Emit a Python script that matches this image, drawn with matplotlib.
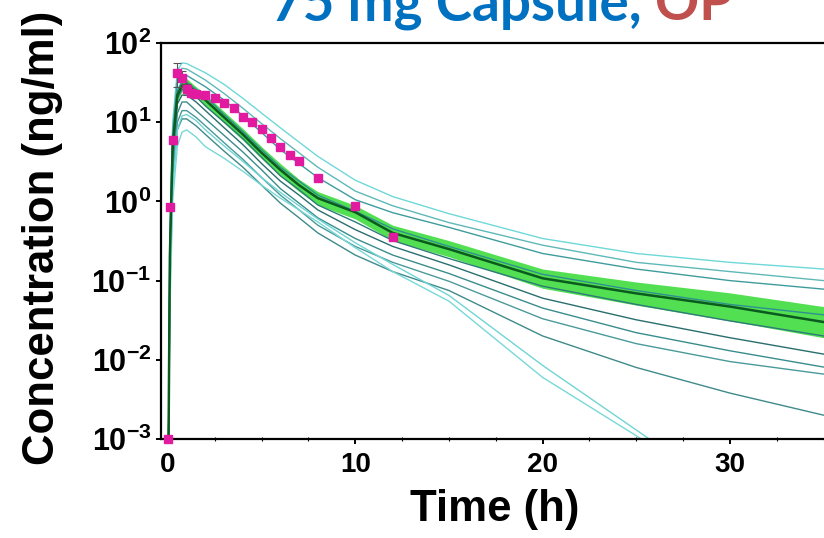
import numpy as np
import matplotlib
matplotlib.use("Agg")
import matplotlib.pyplot as plt
from matplotlib import font_manager as fm
from matplotlib.ticker import FixedLocator, FuncFormatter, MultipleLocator

# ---------------- data ----------------
title_main = "75 mg Capsule, "
title_tail = "OP"
x_label = "Time (h)"
y_label = "Concentration (ng/ml)"
x_ticks = [0, 10, 20, 30]
y_ticks = [1e-3, 1e-2, 1e-1, 1e0, 1e1, 1e2]

# simulation time grid (h)
t_sim = [0, 0.1, 0.25, 0.5, 0.75, 1, 1.5, 2, 3, 4, 5, 6, 7, 8, 10, 12, 15, 20, 25, 30, 35]

# individual simulated profiles (ng/ml)
ind_1 = [1e-4, 0.4, 10, 45, 56, 55, 48, 42, 30, 20, 13, 8.5, 5.6, 3.7, 1.85, 1.15, 0.7, 0.34, 0.22, 0.17, 0.14]
ind_2 = [1e-4, 0.3, 8, 38, 48, 47, 40, 34, 23, 15, 9.6, 6.2, 4.1, 2.7, 1.35, 0.88, 0.54, 0.28, 0.17, 0.13, 0.10]
ind_3 = [1e-4, 0.3, 7, 31, 40, 39, 33, 28, 19, 12, 7.4, 4.5, 3.0, 2.0, 1.05, 0.72, 0.47, 0.22, 0.14, 0.10, 0.078]
ind_4 = [1e-4, 0.2, 5, 25, 33, 32, 26, 21, 12.5, 7.6, 4.5, 2.7, 1.8, 1.2, 0.75, 0.45, 0.27, 0.12, 0.075, 0.05, 0.037]
ind_5 = [1e-4, 0.2, 4, 20, 26, 26, 21, 16, 10, 6.2, 3.6, 2.1, 1.4, 0.9, 0.55, 0.32, 0.19, 0.085, 0.05, 0.031, 0.02]
ind_6 = [1e-4, 0.15, 3.5, 17, 22, 22, 18, 14, 8.5, 5.2, 3.0, 1.8, 1.2, 0.78, 0.44, 0.27, 0.158, 0.06, 0.032, 0.019, 0.0118]
ind_7 = [1e-4, 0.1, 2.5, 13, 18, 18, 14, 11, 6.8, 4.2, 2.5, 1.45, 0.95, 0.62, 0.34, 0.21, 0.123, 0.045, 0.022, 0.013, 0.0081]
ind_8 = [1e-4, 0.1, 2, 10, 14, 14, 11.5, 9, 5.5, 3.4, 2.0, 1.2, 0.78, 0.5, 0.27, 0.17, 0.098, 0.033, 0.016, 0.0095, 0.0066]
ind_9 = [1e-4, 0.08, 1.8, 8, 11, 11, 9, 7, 4.3, 2.7, 1.6, 0.95, 0.62, 0.4, 0.21, 0.13, 0.075, 0.02, 0.008, 0.0038, 0.002]
ind_10 = [1e-4, 0.06, 1.5, 8, 12, 12.5, 10.5, 8, 5, 3.2, 2.0, 1.3, 0.88, 0.6, 0.3, 0.16, 0.065, 0.0085, 0.0013, 2e-4, 3e-5]
ind_11 = [1e-4, 0.04, 1.0, 5, 7.5, 8, 6.5, 4.9, 3.5, 2.4, 1.6, 1.1, 0.78, 0.55, 0.26, 0.13, 0.055, 0.006, 0.0011, 2e-4, 3e-5]

# population median and confidence band (ng/ml)
median_conc = [1e-4, 0.2, 5, 22, 29, 30, 24, 19, 11.5, 7, 4.1, 2.5, 1.6, 1.1, 0.73, 0.4, 0.25, 0.107, 0.069, 0.047, 0.030]
band_low = [1e-4, 0.17, 4.2, 18.5, 24.5, 25.5, 20.5, 16, 9.7, 5.9, 3.45, 2.1, 1.33, 0.9, 0.6, 0.32, 0.2, 0.08, 0.049, 0.031, 0.019]
band_high = [1e-4, 0.24, 6, 26, 34.5, 35.5, 28, 22.5, 13.6, 8.3, 4.9, 3.0, 1.9, 1.33, 0.89, 0.5, 0.32, 0.14, 0.096, 0.07, 0.047]

# observed data (mean +/- error)
t_obs = [0, 0.125, 0.25, 0.5, 0.75, 1, 1.25, 1.5, 2, 2.5, 3, 3.5, 4, 4.5, 5, 5.5, 6, 6.5, 7, 8, 10, 12]
c_obs = [0.001, 0.84, 6.0, 42, 36, 26, 23.6, 22.5, 22, 20, 17.6, 15, 11.7, 10.1, 8.3, 6.4, 4.9, 3.9, 3.2, 2.0, 0.88, 0.355]
e_obs = [0, 0, 0, 14, 8, 4, 2, 1.5, 1.5, 1, 1, 1, 0.8, 0.6, 0.5, 0.4, 0.3, 0.2, 0.2, 0.1, 0.05, 0.02]

# ---------------- style ----------------
names = {f.name for f in fm.fontManager.ttflist}
narrow = "Liberation Sans Narrow" if "Liberation Sans Narrow" in names else "Liberation Sans"
plt.rcParams["font.family"] = ["Liberation Sans", "DejaVu Sans"]
plt.rcParams["mathtext.fontset"] = "custom"
plt.rcParams["mathtext.bf"] = narrow + ":bold"
plt.rcParams["mathtext.rm"] = narrow + ":bold"
plt.rcParams["mathtext.it"] = narrow + ":bold"

W, H = 824, 538
fig = plt.figure(figsize=(W / 100, H / 100), dpi=100)
left_px, right_px, top_px, bot_px = 160.5, 828, 43, 439
ax = fig.add_axes([left_px / W, 1 - bot_px / H, (right_px - left_px) / W, (bot_px - top_px) / H])

ind_series = [ind_1, ind_2, ind_3, ind_4, ind_5, ind_6, ind_7, ind_8, ind_9, ind_10, ind_11]
ind_colors = ["#6fd8d8", "#5fb8b8", "#3f9c9c", "#2f9090", "#2d7a7a", "#2a6e6e",
              "#3a8c8c", "#4a9a9a", "#3f8a8a", "#70d4d4", "#78d8d8"]

ax.fill_between(t_sim, band_low, band_high, color="#52e052", lw=0, zorder=1)
for s, c in zip(ind_series, ind_colors):
    ax.plot(t_sim, s, color=c, lw=1.0, zorder=2)
ax.plot(t_sim, median_conc, color="#0b5a1e", lw=1.8, zorder=3)

ax.errorbar(t_obs, c_obs, yerr=e_obs, fmt="none", ecolor="#555555", elinewidth=0.8,
            capsize=3, capthick=0.8, zorder=4)
ax.plot(t_obs, c_obs, ls="none", marker="s", ms=6, color="#e21aa0", mec="#e21aa0",
        zorder=5, clip_on=False)

ax.set_yscale("log")
ax.set_ylim(1e-3, 1e2)
x0 = -0.40
px_per_h = 18.73
ax.set_xlim(x0, x0 + (right_px - left_px) / px_per_h)

ax.xaxis.set_major_locator(FixedLocator(x_ticks))
ax.xaxis.set_minor_locator(MultipleLocator(2.5))
ax.yaxis.set_major_locator(FixedLocator(y_ticks))
ax.yaxis.set_minor_locator(FixedLocator([]))
ax.yaxis.set_major_formatter(FuncFormatter(lambda v, p: r"$\mathbf{10^{%d}}$" % int(round(np.log10(v)))))

for sp in ["left", "bottom", "top"]:
    ax.spines[sp].set_linewidth(1.6)
ax.spines["right"].set_visible(False)
ax.tick_params(axis="both", which="major", direction="out", length=3.5, width=1.4, top=False, right=False)
ax.tick_params(axis="x", which="minor", direction="inout", length=3, width=0.8, top=False)
ax.tick_params(axis="x", which="major", labelsize=20, pad=6)
ax.tick_params(axis="y", which="major", labelsize=22, pad=3)
for lab in ax.get_xticklabels():
    lab.set_fontweight("bold")

fig.text(43 / W, 1 - 238 / H, y_label, rotation=90, ha="center", va="center",
         fontsize=31.5, fontweight="bold", color="black")
fig.text(495 / W, 1 - 510 / H, x_label, ha="center", va="center",
         fontsize=31.5, fontweight="bold", color="black")

# title in two colours, fitted to width
renderer = fig.canvas.get_renderer()
tfont = ["Lato", "Open Sans", "DejaVu Sans"]
t1 = fig.text(271 / W, 1 - 20 / H, title_main, ha="left", va="baseline", fontsize=40,
              fontweight="bold", color="#0070c0", family=tfont)
t2 = fig.text(0, 1 - 20 / H, title_tail, ha="left", va="baseline", fontsize=40,
              fontweight="bold", color="#c0504d", family=tfont)
w1 = t1.get_window_extent(renderer).width
w2 = t2.get_window_extent(renderer).width
scale = (733 - 271) / (w1 + w2)
t1.set_fontsize(40 * scale)
t2.set_fontsize(40 * scale)
w1 = t1.get_window_extent(renderer).width
t2.set_x((271 + w1) / W)

fig.savefig("out.png", dpi=100)
